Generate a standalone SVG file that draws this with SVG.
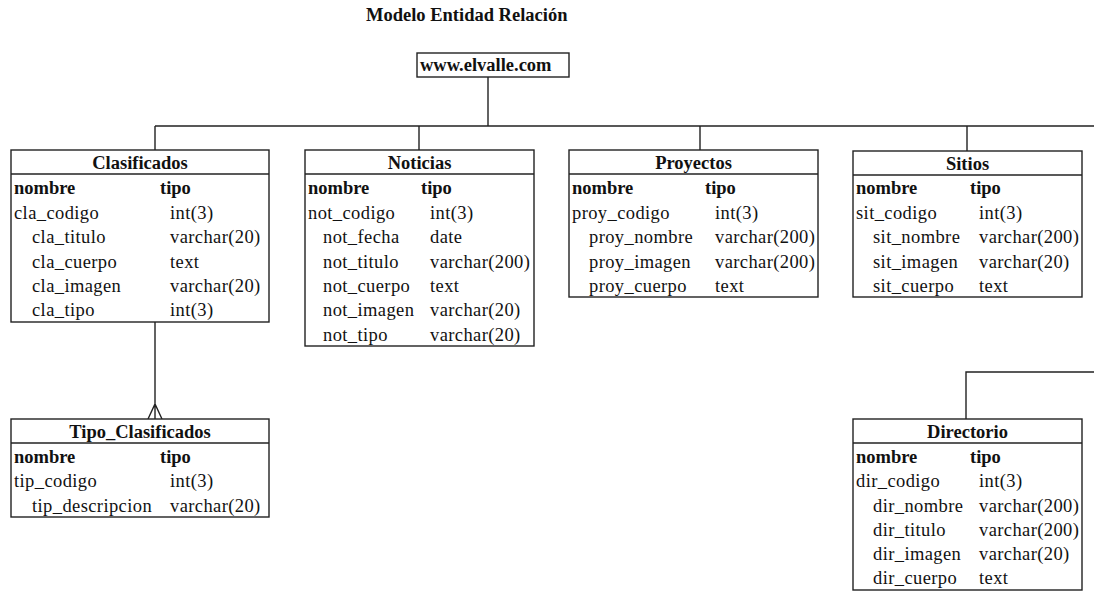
<svg xmlns="http://www.w3.org/2000/svg" width="1094" height="592" viewBox="0 0 1094 592">
<style>
.bg{fill:#fff}
.box{fill:#fff;stroke:#222;stroke-width:1.4}
.sep{stroke:#222;stroke-width:1.4}
.ln{fill:none;stroke:#222;stroke-width:1.4}
text{font-family:'Liberation Serif','DejaVu Serif',serif;font-size:18.5px;fill:#111;letter-spacing:0.4px}
.b{font-weight:bold;letter-spacing:0}
.h{font-weight:bold;text-anchor:middle;letter-spacing:0}
</style>
<rect class="bg" x="0" y="0" width="1094" height="592"/>
<text class="b" x="366" y="21">Modelo Entidad Relación</text>

<g id="connectors">
<path class="ln" d="M488,77 V126 M155,126 H1094 M155,126 V150 M419,126 V150 M700,126 V150 M967,126 V151"/>
<path class="ln" d="M155,322 V419 M148,419 L155,404 L162,419"/>
<path class="ln" d="M1094,372 H966 V419"/>
</g>

<g id="root">
<rect class="box" x="417" y="53" width="152" height="24"/>
<text class="b" x="420" y="71">www.elvalle.com</text>
</g>

<g id="clasificados">
<rect class="box" x="11" y="150" width="258" height="172"/>
<line class="sep" x1="11" y1="174" x2="269" y2="174"/>
<text class="h" x="140" y="169">Clasificados</text>
<text class="b" x="14" y="194">nombre</text><text class="b" x="160" y="194">tipo</text>
<text x="14" y="219">cla_codigo</text><text x="170" y="219">int(3)</text>
<text x="32" y="243">cla_titulo</text><text x="170" y="243">varchar(20)</text>
<text x="32" y="268">cla_cuerpo</text><text x="170" y="268">text</text>
<text x="32" y="292">cla_imagen</text><text x="170" y="292">varchar(20)</text>
<text x="32" y="316">cla_tipo</text><text x="170" y="316">int(3)</text>
</g>

<g id="noticias">
<rect class="box" x="305" y="150" width="229" height="196"/>
<line class="sep" x1="305" y1="174" x2="534" y2="174"/>
<text class="h" x="419.5" y="169">Noticias</text>
<text class="b" x="308" y="194">nombre</text><text class="b" x="421" y="194">tipo</text>
<text x="308" y="219">not_codigo</text><text x="430" y="219">int(3)</text>
<text x="323" y="243">not_fecha</text><text x="430" y="243">date</text>
<text x="323" y="268">not_titulo</text><text x="430" y="268">varchar(200)</text>
<text x="323" y="292">not_cuerpo</text><text x="430" y="292">text</text>
<text x="323" y="316">not_imagen</text><text x="430" y="316">varchar(20)</text>
<text x="323" y="341">not_tipo</text><text x="430" y="341">varchar(20)</text>
</g>

<g id="proyectos">
<rect class="box" x="569" y="150" width="249" height="147"/>
<line class="sep" x1="569" y1="174" x2="818" y2="174"/>
<text class="h" x="693.5" y="169">Proyectos</text>
<text class="b" x="572" y="194">nombre</text><text class="b" x="705" y="194">tipo</text>
<text x="572" y="219">proy_codigo</text><text x="715" y="219">int(3)</text>
<text x="589" y="243">proy_nombre</text><text x="715" y="243">varchar(200)</text>
<text x="589" y="268">proy_imagen</text><text x="715" y="268">varchar(200)</text>
<text x="589" y="292">proy_cuerpo</text><text x="715" y="292">text</text>
</g>

<g id="sitios">
<rect class="box" x="853" y="151" width="229" height="146"/>
<line class="sep" x1="853" y1="175" x2="1082" y2="175"/>
<text class="h" x="967.5" y="170">Sitios</text>
<text class="b" x="856" y="194">nombre</text><text class="b" x="970" y="194">tipo</text>
<text x="856" y="219">sit_codigo</text><text x="979" y="219">int(3)</text>
<text x="873" y="243">sit_nombre</text><text x="979" y="243">varchar(200)</text>
<text x="873" y="268">sit_imagen</text><text x="979" y="268">varchar(20)</text>
<text x="873" y="292">sit_cuerpo</text><text x="979" y="292">text</text>
</g>

<g id="tipo_clasificados">
<rect class="box" x="11" y="419" width="258" height="98"/>
<line class="sep" x1="11" y1="443" x2="269" y2="443"/>
<text class="h" x="140" y="438">Tipo_Clasificados</text>
<text class="b" x="14" y="463">nombre</text><text class="b" x="160" y="463">tipo</text>
<text x="14" y="487">tip_codigo</text><text x="170" y="487">int(3)</text>
<text x="32" y="512">tip_descripcion</text><text x="170" y="512">varchar(20)</text>
</g>

<g id="directorio">
<rect class="box" x="853" y="419" width="229" height="171"/>
<line class="sep" x1="853" y1="443" x2="1082" y2="443"/>
<text class="h" x="967.5" y="438">Directorio</text>
<text class="b" x="856" y="463">nombre</text><text class="b" x="970" y="463">tipo</text>
<text x="856" y="487">dir_codigo</text><text x="979" y="487">int(3)</text>
<text x="873" y="512">dir_nombre</text><text x="979" y="512">varchar(200)</text>
<text x="873" y="536">dir_titulo</text><text x="979" y="536">varchar(200)</text>
<text x="873" y="560">dir_imagen</text><text x="979" y="560">varchar(20)</text>
<text x="873" y="584">dir_cuerpo</text><text x="979" y="584">text</text>
</g>
</svg>
